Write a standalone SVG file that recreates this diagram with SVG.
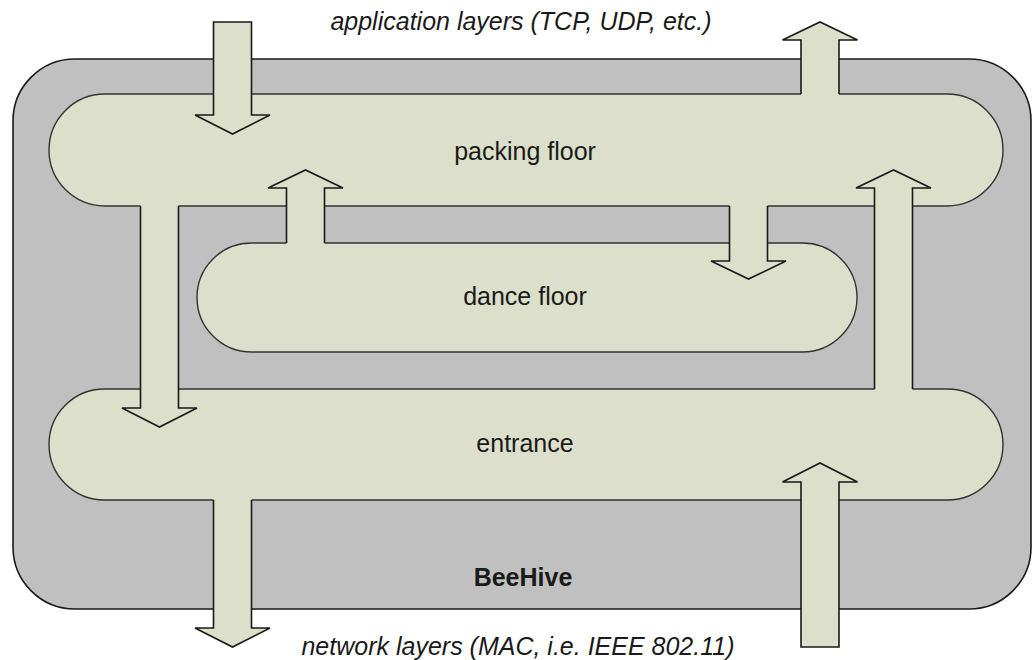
<svg xmlns="http://www.w3.org/2000/svg" width="1032" height="660" viewBox="0 0 1032 660">
  <style>
    .box { fill: #c0c0c0; stroke: #1a1a1a; stroke-width: 1.6; }
    .pill { fill: #dcdfca; stroke: #333333; stroke-width: 1.4; }
    .afill { fill: #dcdfca; stroke: none; }
    .aline { fill: none; stroke: #1a1a1a; stroke-width: 1.6; stroke-linejoin: miter; }
    .aclosed { fill: #dcdfca; stroke: #1a1a1a; stroke-width: 1.6; }
    .lbl { font-family: "Liberation Sans", Arial, sans-serif; font-size: 25px; fill: #1a1a1a; text-anchor: middle; }
    .it { font-style: italic; }
    .bd { font-weight: bold; }
  </style>
  <rect width="1032" height="660" fill="#ffffff"/>
  <g id="beehive">
    <rect class="box" x="13" y="59" width="1018" height="550" rx="62" ry="62"/>
    <text class="lbl bd" x="523" y="586">BeeHive</text>
  </g>
  <g id="packing-floor">
    <rect class="pill" x="49" y="94" width="954" height="112" rx="56" ry="56"/>
    <text class="lbl" x="525" y="160">packing floor</text>
  </g>
  <g id="dance-floor">
    <rect class="pill" x="197" y="243" width="660" height="109" rx="54.5" ry="54.5"/>
    <text class="lbl" x="525" y="305">dance floor</text>
  </g>
  <g id="entrance">
    <rect class="pill" x="49" y="389" width="954" height="111" rx="55.5" ry="55.5"/>
    <text class="lbl" x="525" y="452">entrance</text>
  </g>
  <g id="connectors">
    <!-- A1: outside -> packing floor (down) -->
    <path class="aclosed" d="M213.5,22 L251.5,22 L251.5,115 L270,115 L232.5,134 L195,115 L213.5,115 Z"/>
    <!-- A2: packing floor -> outside (up) -->
    <path class="afill" d="M801,98 L801,40 L782.5,40 L820,22 L857.5,40 L839,40 L839,98 Z"/>
    <path class="aline" d="M801,94 L801,40 L782.5,40 L820,22 L857.5,40 L839,40 L839,94"/>
    <!-- A3: dance floor -> packing floor (up) -->
    <path class="afill" d="M286.5,247 L286.5,188 L268,188 L305.5,170 L343,188 L324.5,188 L324.5,247 Z"/>
    <path class="aline" d="M286.5,243 L286.5,188 L268,188 L305.5,170 L343,188 L324.5,188 L324.5,243"/>
    <!-- A4: packing floor -> dance floor (down) -->
    <path class="afill" d="M729.5,202 L729.5,261 L711,261 L748.5,279 L786,261 L767.5,261 L767.5,202 Z"/>
    <path class="aline" d="M729.5,206 L729.5,261 L711,261 L748.5,279 L786,261 L767.5,261 L767.5,206"/>
    <!-- A5: packing floor -> entrance (down) -->
    <path class="afill" d="M140.5,202 L140.5,408 L122,408 L159.5,427 L197,408 L178.5,408 L178.5,202 Z"/>
    <path class="aline" d="M140.5,206 L140.5,408 L122,408 L159.5,427 L197,408 L178.5,408 L178.5,206"/>
    <!-- A6: entrance -> packing floor (up) -->
    <path class="afill" d="M874.5,393 L874.5,188 L856,188 L893.5,170 L931,188 L912.5,188 L912.5,393 Z"/>
    <path class="aline" d="M874.5,389 L874.5,188 L856,188 L893.5,170 L931,188 L912.5,188 L912.5,389"/>
    <!-- A7: entrance -> outside (down) -->
    <path class="afill" d="M213.5,496 L213.5,628 L195,628 L232.5,647 L270,628 L251.5,628 L251.5,496 Z"/>
    <path class="aline" d="M213.5,500 L213.5,628 L195,628 L232.5,647 L270,628 L251.5,628 L251.5,500"/>
    <!-- A8: outside -> entrance (up) -->
    <path class="aclosed" d="M801,647 L801,482 L782.5,482 L820,463 L857.5,482 L839,482 L839,647 Z"/>
  </g>
  <text class="lbl it" x="521" y="30">application layers (TCP, UDP, etc.)</text>
  <text class="lbl it" x="518" y="655">network layers (MAC, i.e. IEEE 802.11)</text>
</svg>
